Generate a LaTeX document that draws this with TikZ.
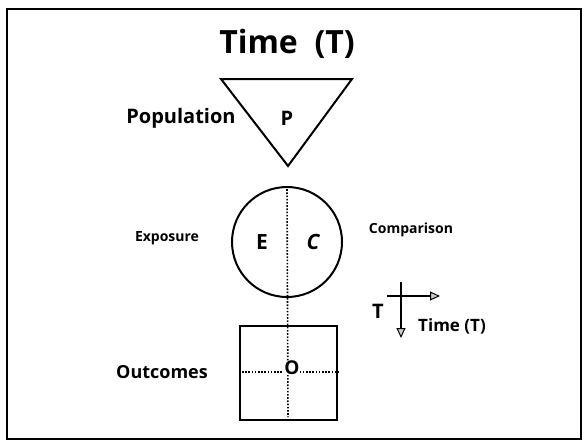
\documentclass[tikz,border=0pt]{standalone}
\usepackage{fontspec}
\setmainfont{Open Sans}
\usetikzlibrary{arrows.meta}
\begin{document}
\begin{tikzpicture}[x=1pt,y=-1pt,
  lbl/.style={inner sep=0pt, font=\fontsize{#1}{#1}\selectfont\bfseries},
  lbl/.default=18,
  shapeline/.style={draw, line width=2pt},
  dotline/.style={line width=1.6pt, dash pattern=on 1.6pt off 1.6pt},
  axisarrow/.style={line width=2.2pt, -{Triangle[length=10pt,width=9pt,fill=gray!40,line width=1pt]}}]
\useasboundingbox (0,0) rectangle (585,442);
\draw[line width=2.4pt] (7,9) rectangle (581,439);
% title
\node[lbl=32] (title) at (287,44) {Time~~(T)};
% population triangle
\coordinate (t1) at (221,79);
\coordinate (t2) at (352,79);
\coordinate (t3) at (288,166);
\draw[shapeline, line join=miter] (t1) -- (t2) -- (t3) -- cycle;
\node[lbl=20] (p) at (287,118) {P};
\node[lbl=20] (pop) at (181,118) {Population};
% exposure / comparison circle
\node[shapeline, circle, minimum size=110pt, inner sep=0pt] (ec) at (287,242) {};
\node[lbl=21] (e) at (262,242) {E};
\node[lbl=21] (c) at (313,242) {\itshape C};
\node[lbl=14] (exp) at (167,238) {Exposure};
\node[lbl=14] (comp) at (411,230) {Comparison};
% outcomes square
\node[draw, line width=2.4pt, rectangle, minimum width=97pt, minimum height=94pt, inner sep=0pt] (out) at (288.5,373) {};
\coordinate (vend) at (288,417);
\draw[dotline] (ec.north) -- (vend);
\draw[dotline] (out.west |- 0,372) -- (out.east |- 0,372);
\node[lbl=19, fill=white, inner sep=0.5pt] (o) at (292,368) {O};
\node[lbl=18] (outl) at (162,372) {Outcomes};
% time axes
\coordinate (va) at (401,282);
\coordinate (vb) at (401,338);
\coordinate (ha) at (387,296);
\coordinate (hb) at (440,296);
\draw[axisarrow] (va) -- (vb);
\draw[axisarrow] (ha) -- (hb);
\node[lbl=20] (tl) at (378,311) {T};
\node[lbl=17] (tt) at (452,326) {Time (T)};
\end{tikzpicture}
\end{document}
